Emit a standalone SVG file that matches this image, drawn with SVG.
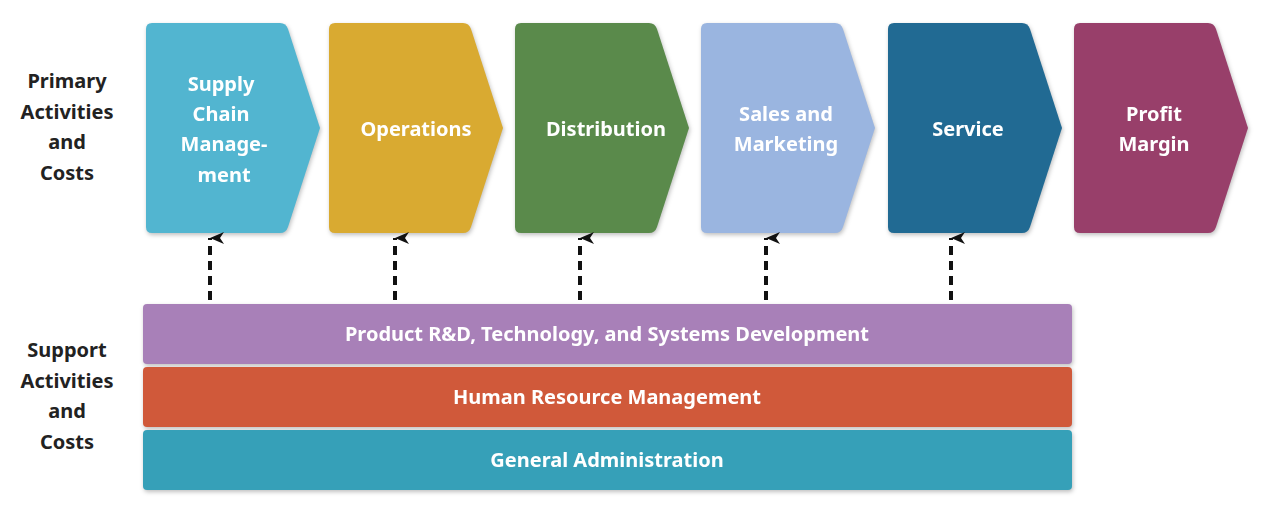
<svg xmlns="http://www.w3.org/2000/svg" width="1280" height="512" viewBox="0 0 1280 512">
<defs>
<style>
text{font-family:"Noto Sans","Liberation Sans",sans-serif;font-weight:bold;text-anchor:middle}
.w{fill:#fff;font-size:20px}
.k{fill:#222;font-size:20px}
.sh{filter:drop-shadow(1px 2px 2px rgba(0,0,0,0.25))}
</style>
<path id="chev" d="M6,0 H134 Q140,0 142,6 L174,105 L142,204 Q140,210 134,210 H6 Q0,210 0,204 V6 Q0,0 6,0 Z"/>
<marker id="ah" markerWidth="12" markerHeight="14" refX="6" refY="0" orient="auto-start-reverse" markerUnits="userSpaceOnUse" viewBox="0 0 12 14">
<path d="M6,0 L12,14 L6,10 L0,14 Z" fill="#111"/>
</marker>
</defs>
<rect width="1280" height="512" fill="#fff"/>
<g id="labels">
<text class="k" x="67" y="88">Primary</text>
<text class="k" x="67" y="119">Activities</text>
<text class="k" x="67" y="149">and</text>
<text class="k" x="67" y="180">Costs</text>
<text class="k" x="67" y="357">Support</text>
<text class="k" x="67" y="388">Activities</text>
<text class="k" x="67" y="418">and</text>
<text class="k" x="67" y="449">Costs</text>
</g>
<g id="n1" class="sh"><use href="#chev" x="146" y="23" fill="#52B5D0"/>
<text class="w" x="221" y="91">Supply</text><text class="w" x="221" y="121">Chain</text><text class="w" x="224" y="151">Manage-</text><text class="w" x="224" y="182">ment</text></g>
<g id="n2" class="sh"><use href="#chev" x="329" y="23" fill="#D9AA31"/><text class="w" x="416" y="136">Operations</text></g>
<g id="n3" class="sh"><use href="#chev" x="515" y="23" fill="#5A8A4B"/><text class="w" x="606" y="136">Distribution</text></g>
<g id="n4" class="sh"><use href="#chev" x="701" y="23" fill="#9AB5E0"/><text class="w" x="786" y="121">Sales and</text><text class="w" x="786" y="151">Marketing</text></g>
<g id="n5" class="sh"><use href="#chev" x="888" y="23" fill="#216A93"/><text class="w" x="968" y="136">Service</text></g>
<g id="n6" class="sh"><use href="#chev" x="1074" y="23" fill="#983F6A"/><text class="w" x="1154" y="121">Profit</text><text class="w" x="1154" y="151">Margin</text></g>
<g id="connectors" stroke="#111" stroke-width="4" stroke-dasharray="9,6" marker-end="url(#ah)">
<line x1="210" y1="300" x2="210" y2="238"/>
<line x1="395" y1="300" x2="395" y2="238"/>
<line x1="580" y1="300" x2="580" y2="238"/>
<line x1="766" y1="300" x2="766" y2="238"/>
<line x1="951" y1="300" x2="951" y2="238"/>
</g>
<g id="b1" class="sh"><rect x="143" y="304" width="929" height="60" rx="4" fill="#A880B8"/><text class="w" x="607" y="341">Product R&amp;D, Technology, and Systems Development</text></g>
<g id="b2" class="sh"><rect x="143" y="367" width="929" height="60" rx="4" fill="#D0593A"/><text class="w" x="607" y="404">Human Resource Management</text></g>
<g id="b3" class="sh"><rect x="143" y="430" width="929" height="60" rx="4" fill="#36A0B8"/><text class="w" x="607" y="467">General Administration</text></g>
</svg>
